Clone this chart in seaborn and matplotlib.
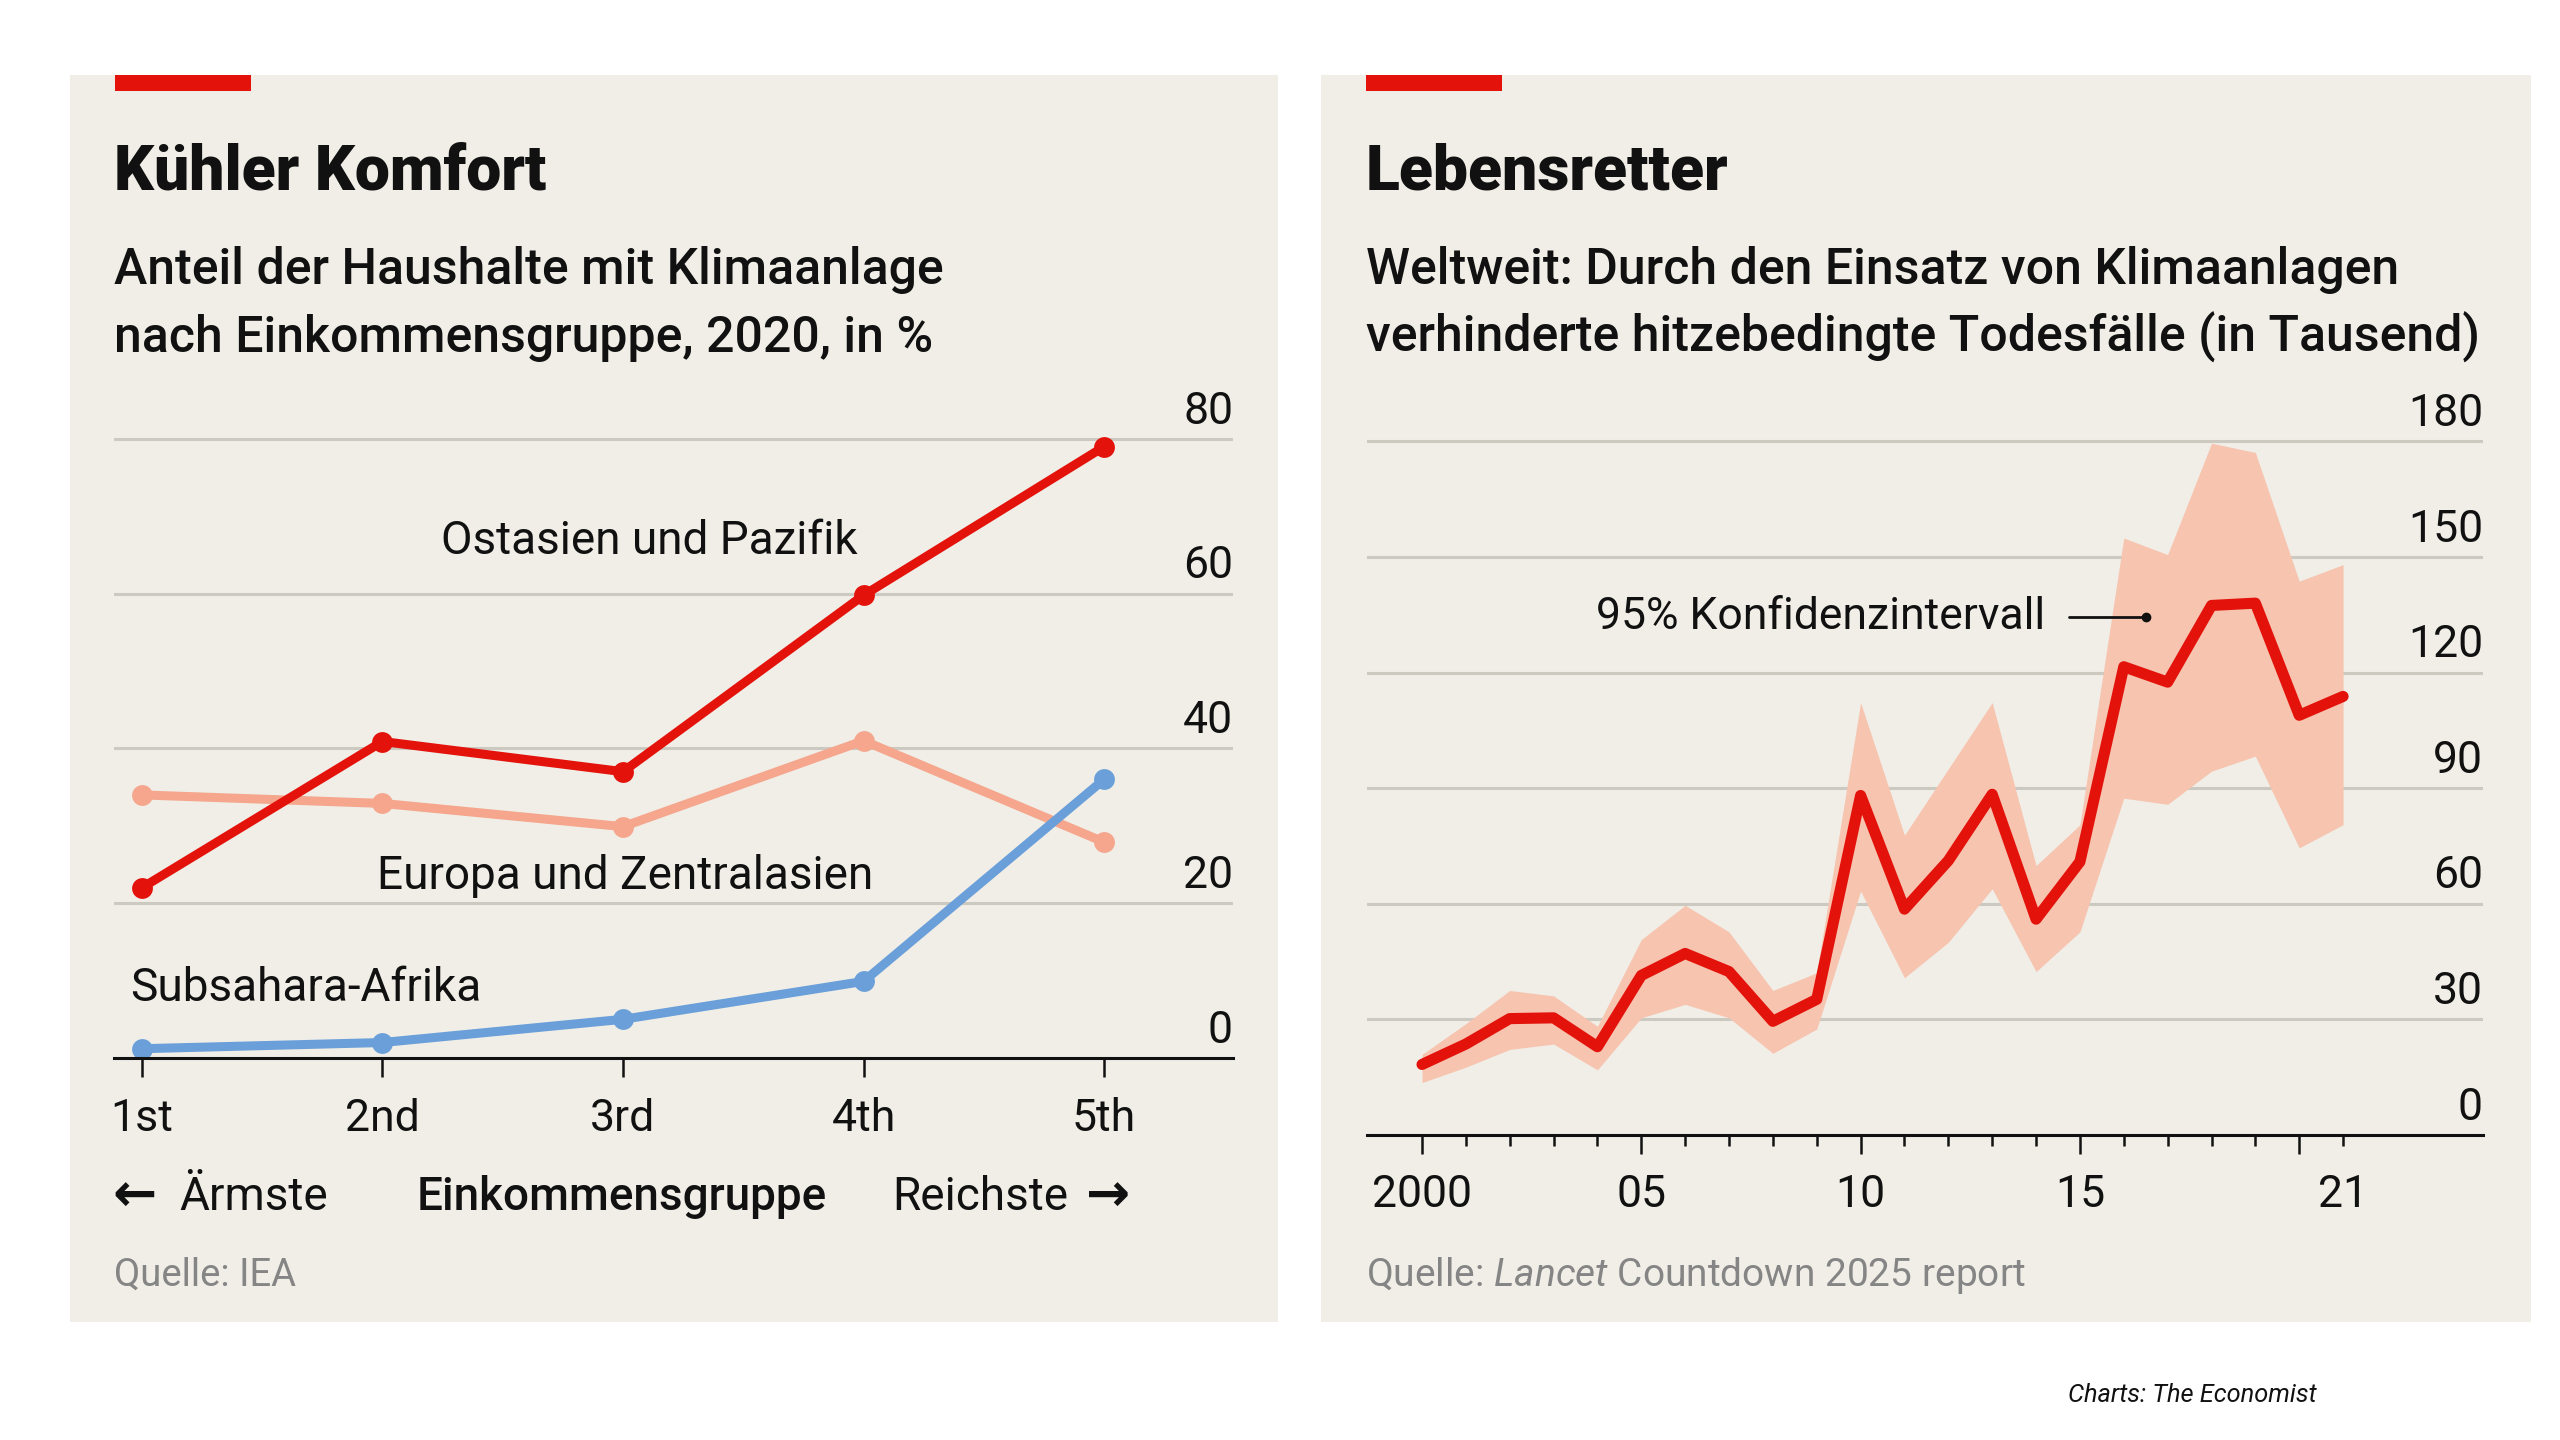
import matplotlib
matplotlib.use("Agg")
import matplotlib.pyplot as plt
import matplotlib.transforms as mtransforms
from matplotlib.patches import Rectangle
import seaborn as sns
import pandas as pd
import numpy as np

# ---------------- data ----------------
income_groups = ["1st", "2nd", "3rd", "4th", "5th"]
east_asia = [22.0, 40.9, 37.0, 59.8, 79.0]
europe_ca = [34.0, 32.9, 29.9, 41.0, 27.9]
subsahara = [1.2, 2.0, 5.0, 9.9, 36.0]
left_yticks = [0, 20, 40, 60, 80]

years = list(range(2000, 2022))
deaths_avoided = [18.3, 23.6, 30.2, 30.4, 22.9, 41.4, 47.1, 42.4, 29.5, 35.2, 88.1,
                  58.6, 71.2, 88.4, 56.0, 70.9, 121.5, 117.5, 137.4, 138.0, 108.9, 113.8]
ci_upper = [20.9, 28.9, 37.5, 36.1, 28.2, 50.7, 59.6, 52.7, 37.5, 42.1, 112.2,
            77.8, 95.0, 112.2, 69.9, 80.5, 154.9, 150.6, 179.5, 177.1, 143.7, 148.0]
ci_lower = [13.6, 17.6, 22.2, 23.6, 16.9, 30.4, 33.9, 30.4, 21.2, 27.5, 63.3,
            40.8, 50.0, 63.9, 42.4, 52.7, 87.4, 85.8, 94.4, 98.3, 74.5, 80.5]
right_yticks = [0, 30, 60, 90, 120, 150, 180]
right_xlabels = {2000: "2000", 2005: "05", 2010: "10", 2015: "15", 2021: "21"}

# ---------------- style ----------------
sns.set_theme(style="white")
plt.rcParams["font.family"] = ["Roboto", "DejaVu Sans"]
plt.rcParams["mathtext.fontset"] = "custom"
plt.rcParams["mathtext.rm"] = "Roboto"
plt.rcParams["mathtext.it"] = "Roboto:italic"

W, H = 2560, 1440
fig = plt.figure(figsize=(W / 100, H / 100), dpi=100)
fig.patch.set_facecolor("white")

PANEL = "#F0EEE7"
GRID = "#CCC9C1"
RED = "#E3120B"
PINK = "#F5A68C"
BLUE = "#6A9FD9"
BAND = "#F7C4B0"
TXT = "#111111"
GRAY = "#858585"

TICK_FS = 32
LABEL_FS = 33


def frac(x, y):
    return x / W, 1 - y / H


def add_axes_px(x0, y0, x1, y1):
    ax = fig.add_axes([x0 / W, 1 - y1 / H, (x1 - x0) / W, (y1 - y0) / H])
    ax.set_zorder(2)
    return ax


# panels and red bars
for (px0, px1) in [(70, 1278), (1321, 2531)]:
    fig.patches.append(Rectangle(frac(px0, 1322), (px1 - px0) / W, (1322 - 75) / H,
                                 transform=fig.transFigure, facecolor=PANEL,
                                 edgecolor="none", zorder=-2))
    fig.patches.append(Rectangle(frac(px0 + 45, 91), 136 / W, 16 / H,
                                 transform=fig.transFigure, facecolor=RED,
                                 edgecolor="none", zorder=-1))

# titles
TS, SS = 45, 36
fig.text(*frac(114, 189), "Kühler Komfort", fontsize=TS, fontweight="heavy",
         color=TXT, ha="left", va="baseline")
fig.text(*frac(114, 284), "Anteil der Haushalte mit Klimaanlage", fontsize=SS,
         fontweight="medium", color=TXT, ha="left", va="baseline")
fig.text(*frac(114, 352), "nach Einkommensgruppe, 2020, in %", fontsize=SS,
         fontweight="medium", color=TXT, ha="left", va="baseline")

fig.text(*frac(1366, 189), "Lebensretter", fontsize=TS, fontweight="heavy",
         color=TXT, ha="left", va="baseline")
fig.text(*frac(1366, 284), "Weltweit: Durch den Einsatz von Klimaanlagen", fontsize=SS,
         fontweight="medium", color=TXT, ha="left", va="baseline")
fig.text(*frac(1366, 352), "verhinderte hitzebedingte Todesfälle (in Tausend)", fontsize=SS,
         fontweight="medium", color=TXT, ha="left", va="baseline")

# ---------------- left chart ----------------
axL = add_axes_px(114, 408, 1233, 1058)
axL.set_facecolor("none")
df = pd.DataFrame({
    "pos": list(range(5)) * 3,
    "val": europe_ca + subsahara + east_asia,
    "region": ["Europa"] * 5 + ["Subsahara"] * 5 + ["Ostasien"] * 5,
})
sns.lineplot(data=df, x="pos", y="val", hue="region",
             hue_order=["Europa", "Subsahara", "Ostasien"],
             palette={"Europa": PINK, "Subsahara": BLUE, "Ostasien": RED},
             marker="o", markersize=15, markeredgewidth=0, linewidth=6.5,
             legend=False, ax=axL, clip_on=False)
axL.set_xlim(-0.116, 4.536)
axL.set_ylim(0, 84)
for sp in ["top", "left", "right"]:
    axL.spines[sp].set_visible(False)
axL.spines["bottom"].set_color(TXT)
axL.spines["bottom"].set_linewidth(2.2)
axL.set_yticks([t for t in left_yticks if t > 0])
axL.set_yticklabels([])
axL.tick_params(axis="y", length=0)
axL.yaxis.grid(True, color=GRID, linewidth=2.2)
axL.set_axisbelow(True)
axL.set_xticks(range(5))
axL.set_xticklabels(income_groups, fontsize=TICK_FS, color=TXT)
axL.tick_params(axis="x", direction="out", length=14, width=1.8, color=TXT, pad=15,
                bottom=True)
axL.set_xlabel("")
axL.set_ylabel("")
blendL = mtransforms.blended_transform_factory(axL.transAxes, axL.transData)
for t in left_yticks:
    axL.annotate(str(t), xy=(1, t), xycoords=blendL, xytext=(0, 11),
                 textcoords="offset points", ha="right", va="baseline",
                 fontsize=TICK_FS, color=TXT)
axL.text(2.11, 66.8, "Ostasien und Pazifik", fontsize=LABEL_FS, color=TXT,
         ha="center", va="center")
axL.text(2.01, 23.5, "Europa und Zentralasien", fontsize=LABEL_FS, color=TXT,
         ha="center", va="center")
axL.text(-0.05, 9.0, "Subsahara-Afrika", fontsize=LABEL_FS, color=TXT,
         ha="left", va="center")

fig.text(*frac(112, 1211), "\u2190", fontsize=38, fontweight="bold",
         family="DejaVu Sans", color=TXT, ha="left", va="baseline")
fig.text(*frac(179, 1210), "Ärmste", fontsize=LABEL_FS, color=TXT, ha="left", va="baseline")
fig.text(*frac(622, 1210), "Einkommensgruppe", fontsize=LABEL_FS, fontweight="medium",
         color=TXT, ha="center", va="baseline")
fig.text(*frac(1068, 1210), "Reichste", fontsize=LABEL_FS, color=TXT, ha="right", va="baseline")
fig.text(*frac(1130, 1211), "\u2192", fontsize=38, fontweight="bold",
         family="DejaVu Sans", color=TXT, ha="right", va="baseline")
fig.text(*frac(114, 1286), "Quelle: IEA", fontsize=27.5, color=GRAY, ha="left", va="baseline")

# ---------------- right chart ----------------
axR = add_axes_px(1367, 422, 2483, 1135)
axR.set_facecolor("none")
axR.fill_between(years, ci_lower, ci_upper, color=BAND, linewidth=0, zorder=2)
sns.lineplot(x=years, y=deaths_avoided, color=RED, linewidth=8, ax=axR, zorder=3)
axR.set_xlim(1998.746, 2024.19)
axR.set_ylim(0, 185)
for sp in ["top", "left", "right"]:
    axR.spines[sp].set_visible(False)
axR.spines["bottom"].set_color(TXT)
axR.spines["bottom"].set_linewidth(2.2)
axR.set_yticks([t for t in right_yticks if t > 0])
axR.set_yticklabels([])
axR.tick_params(axis="y", length=0)
axR.yaxis.grid(True, color=GRID, linewidth=2.2)
axR.set_axisbelow(True)
axR.set_xticks([2000, 2005, 2010, 2015, 2020])
axR.set_xticklabels([right_xlabels.get(y, "") for y in [2000, 2005, 2010, 2015, 2020]],
                    fontsize=TICK_FS, color=TXT)
axR.set_xticks(years, minor=True)
axR.set_xticklabels([right_xlabels.get(y, "") if y == 2021 else "" for y in years],
                    minor=True, fontsize=TICK_FS, color=TXT)
axR.tick_params(axis="x", which="major", direction="out", length=14, width=1.8,
                color=TXT, pad=14, bottom=True)
axR.tick_params(axis="x", which="minor", direction="out", length=8, width=1.8,
                color=TXT, pad=20, bottom=True)
axR.set_xlabel("")
axR.set_ylabel("")
blendR = mtransforms.blended_transform_factory(axR.transAxes, axR.transData)
for t in right_yticks:
    axR.annotate(str(t), xy=(1, t), xycoords=blendR, xytext=(0, 11),
                 textcoords="offset points", ha="right", va="baseline",
                 fontsize=TICK_FS, color=TXT)
axR.text(2014.2, 134.5, "95% Konfidenzintervall", fontsize=32, color=TXT,
         ha="right", va="center")
axR.plot([2014.75, 2016.5], [134.5, 134.5], color=TXT, linewidth=2, zorder=5)
axR.plot([2016.5], [134.5], "o", color=TXT, markersize=6, zorder=5)

fig.text(*frac(1366, 1286), r"Quelle: $\it{Lancet}$ Countdown 2025 report", fontsize=28,
         color=GRAY, ha="left", va="baseline")

fig.text(*frac(2068, 1402), "Charts: The Economist", fontsize=18.3, style="italic",
         color=TXT, ha="left", va="baseline")

fig.savefig("out.png", dpi=100, facecolor="white")
